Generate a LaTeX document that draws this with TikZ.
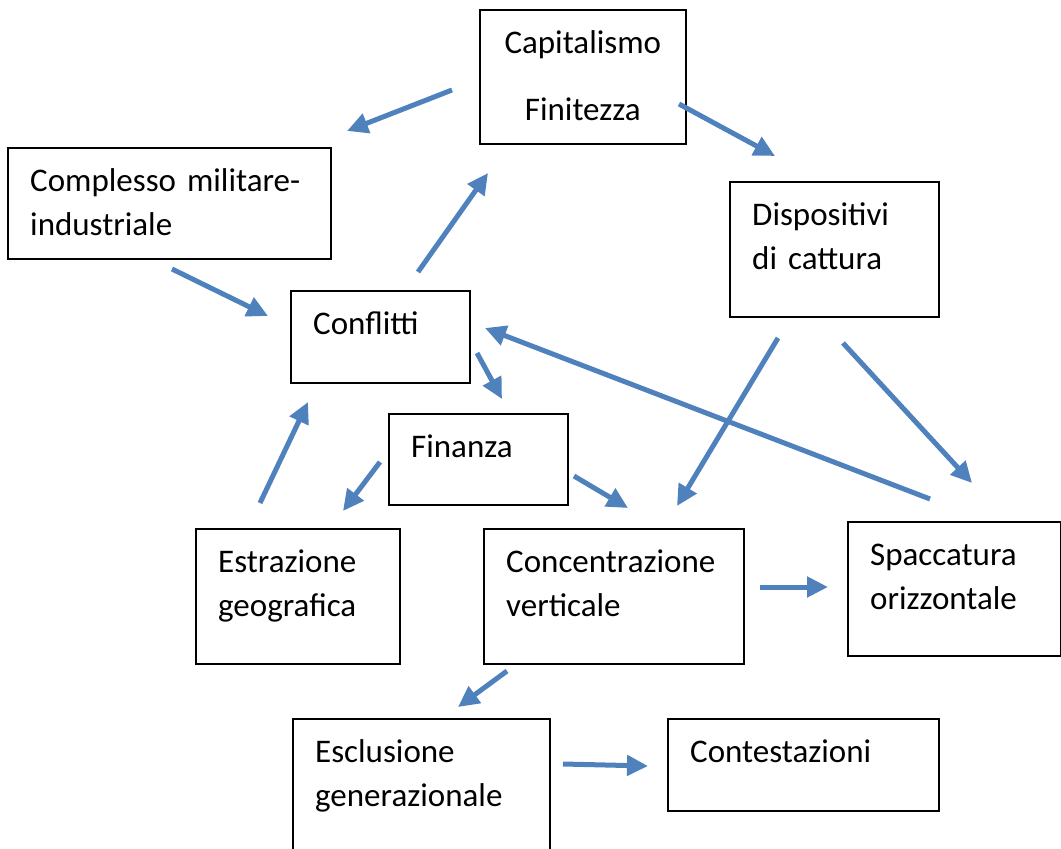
\documentclass[tikz,border=0pt]{standalone}
\usepackage{fontspec}
\setmainfont{Carlito}
\usetikzlibrary{arrows.meta}
\definecolor{arrowblue}{RGB}{79,129,189}

\begin{document}
\begin{tikzpicture}[x=1pt,y=-1pt]
  \tikzset{box/.style={draw,line width=1.6pt,anchor=north west,inner sep=0pt},
           boxtext/.style={anchor=base west,inner sep=0pt,text width=300pt,align=left,
                           font=\fontsize{33}{44}\selectfont,xshift=23pt,yshift=-44pt},
           arr/.style={draw=arrowblue,line width=5pt,-{Triangle[length=21pt,width=20pt]}}}
  \useasboundingbox (0,0) rectangle (1061,849);

  \node[box,minimum width=206pt,minimum height=134pt] (cf)    at (479,9)   {};
  \node[box,minimum width=323pt,minimum height=111pt] (cmi)   at (7,147)   {};
  \node[box,minimum width=209pt,minimum height=135pt] (disp)  at (729,181) {};
  \node[box,minimum width=179pt,minimum height=92pt]  (confl) at (290,290) {};
  \node[box,minimum width=179pt,minimum height=91pt]  (fin)   at (388,413) {};
  \node[box,minimum width=204pt,minimum height=135pt] (estr)  at (195,528) {};
  \node[box,minimum width=260pt,minimum height=135pt] (conc)  at (483,528) {};
  \node[box,minimum width=213pt,minimum height=134pt] (spacc) at (847,521) {};
  \node[box,minimum width=257pt,minimum height=160pt] (escl)  at (292,718) {};
  \node[box,minimum width=271pt,minimum height=92pt]  (cont)  at (667,718) {};

  \node[anchor=base,inner sep=0pt,text width=206pt,align=center,font=\fontsize{33}{44}\selectfont]
    (cf_t) at ([yshift=-44pt]cf.north) {Capitalismo\\[23pt]Finitezza};
  \node[boxtext] (cmi_t)   at (cmi.north west)   {Complesso militare-\\industriale};
  \node[boxtext] (disp_t)  at (disp.north west)  {Dispositivi\\di cattura};
  \node[boxtext] (confl_t) at (confl.north west) {Conflitti};
  \node[boxtext] (fin_t)   at (fin.north west)   {Finanza};
  \node[boxtext] (estr_t)  at (estr.north west)  {Estrazione\\geografica};
  \node[boxtext] (conc_t)  at (conc.north west)  {Concentrazione\\verticale};
  \node[boxtext] (spacc_t) at (spacc.north west) {Spaccatura\\orizzontale};
  \node[boxtext] (escl_t)  at (escl.north west)  {Esclusione\\generazionale};
  \node[boxtext] (cont_t)  at (cont.north west)  {Contestazioni};

  % arrow ends
  \coordinate (cf_w)    at (452,90);   \coordinate (cmi_n)   at (347,131);
  \coordinate (cf_e)    at (679,104);  \coordinate (disp_n)  at (775,156);
  \coordinate (cmi_s)   at (172,269);  \coordinate (confl_w) at (268,316);
  \coordinate (confl_n) at (418,272);  \coordinate (cf_s)    at (488,173);
  \coordinate (confl_s) at (477,353);  \coordinate (fin_n)   at (502,399);
  \coordinate (spacc_n) at (930,499);  \coordinate (confl_e) at (485,328);
  \coordinate (disp_sw) at (778,338);  \coordinate (conc_n)  at (677,506);
  \coordinate (disp_se) at (843,343);  \coordinate (spacc_nw) at (972,483);
  \coordinate (fin_w)   at (380,462);  \coordinate (estr_n)  at (343,511);
  \coordinate (fin_e)   at (574,476);  \coordinate (conc_nw) at (628,508);
  \coordinate (estr_nw) at (260,503);  \coordinate (confl_sw) at (308,402);
  \coordinate (conc_e)  at (760,587);  \coordinate (spacc_w) at (828,587);
  \coordinate (conc_s)  at (507,671);  \coordinate (escl_n)  at (458,707);
  \coordinate (escl_e)  at (563,764);  \coordinate (cont_w)  at (648,766);

  \path[every edge/.style={arr}]
  (cf_w)    edge (cmi_n)
  (cf_e)    edge (disp_n)
  (cmi_s)   edge (confl_w)
  (confl_n) edge (cf_s)
  (confl_s) edge (fin_n)
  (spacc_n) edge (confl_e)
  (disp_sw) edge (conc_n)
  (disp_se) edge (spacc_nw)
  (fin_w)   edge (estr_n)
  (fin_e)   edge (conc_nw)
  (estr_nw) edge (confl_sw)
  (conc_e)  edge (spacc_w)
  (conc_s)  edge (escl_n)
  (escl_e)  edge (cont_w)
  ;
\end{tikzpicture}
\end{document}
